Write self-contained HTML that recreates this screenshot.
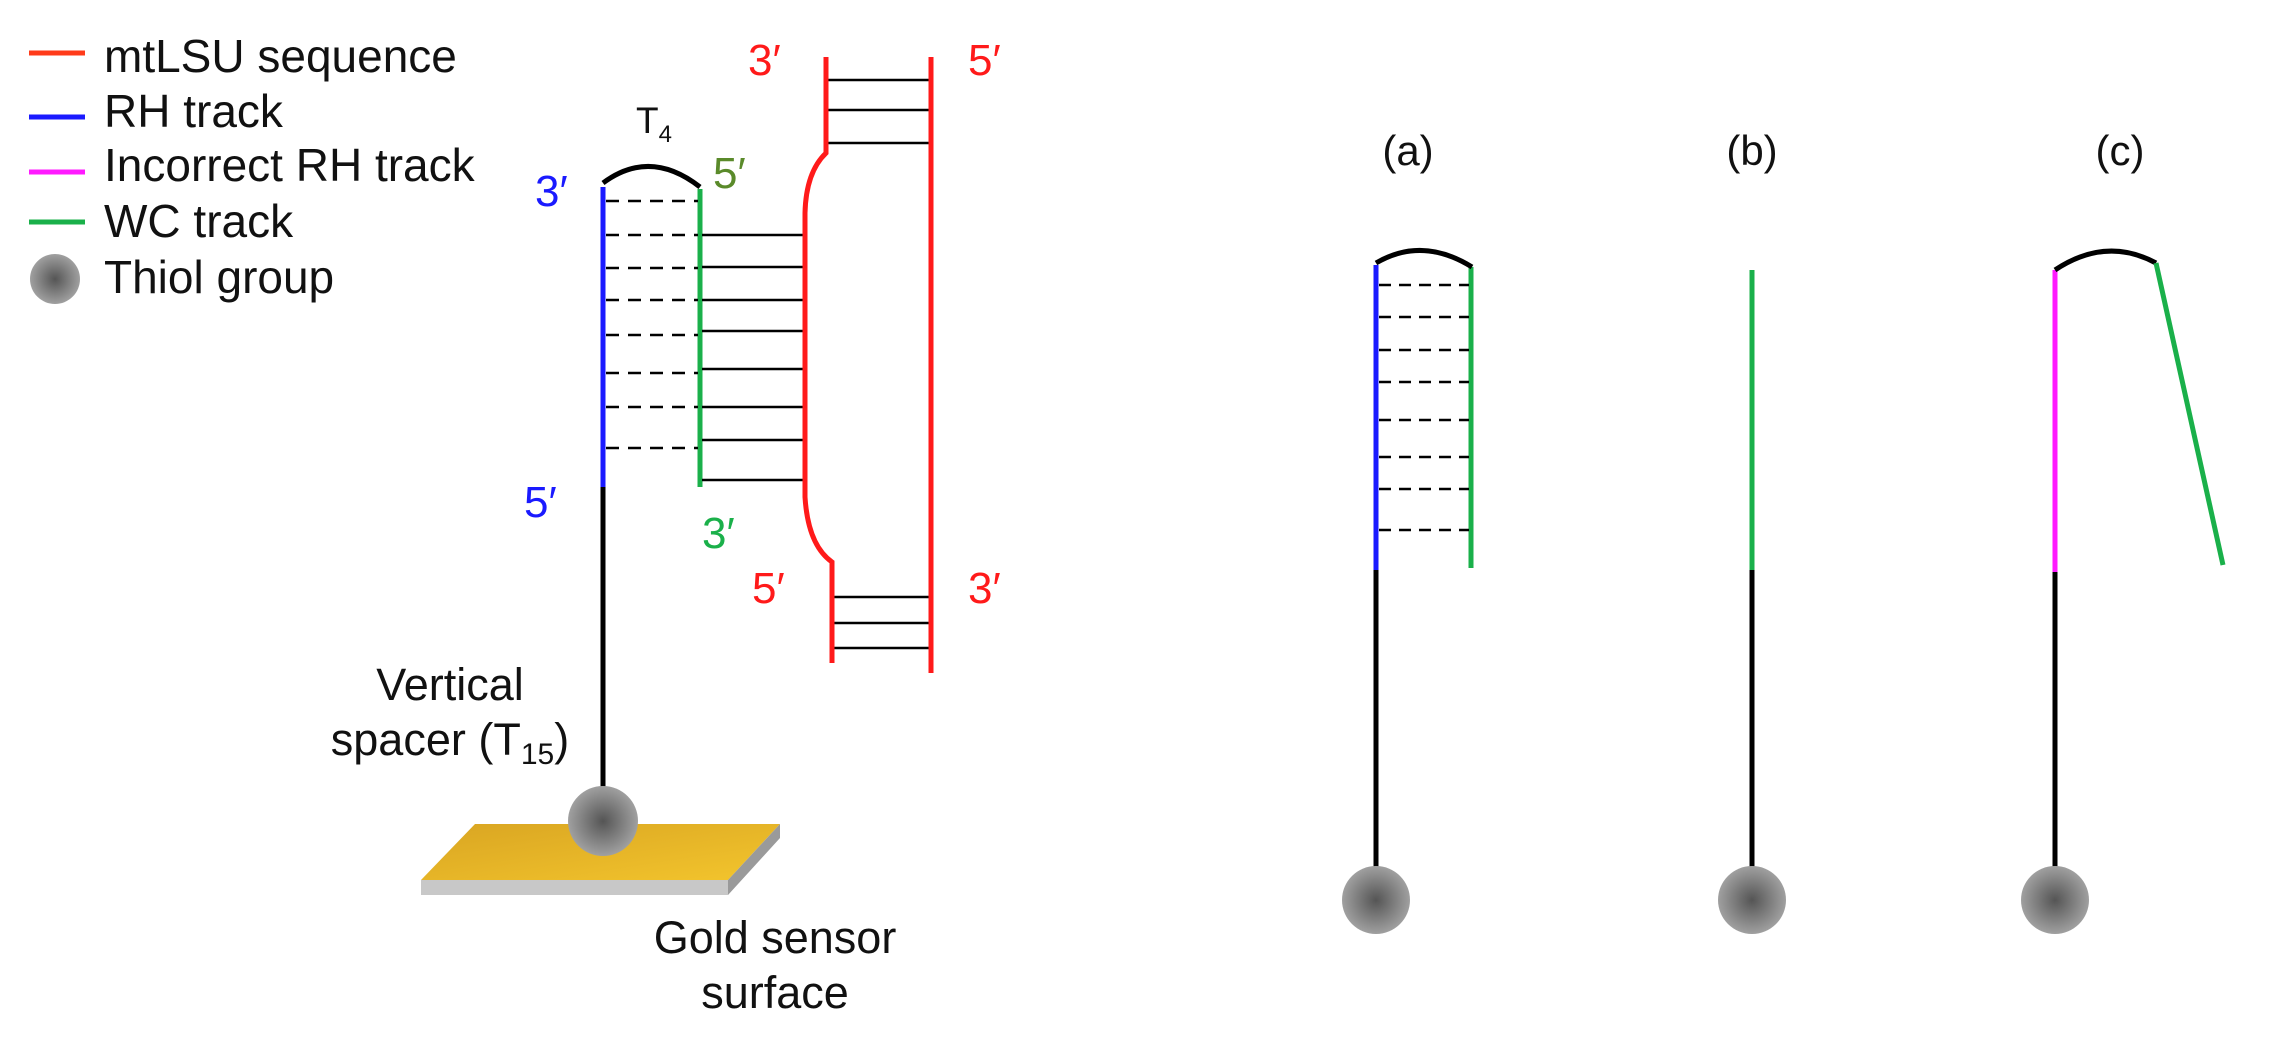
<!DOCTYPE html>
<html><head><meta charset="utf-8"><style>
html,body{margin:0;padding:0;background:#fff;}
svg{display:block;}
text{font-family:"Liberation Sans",sans-serif;}
</style></head><body>
<svg width="2272" height="1050" viewBox="0 0 2272 1050" xmlns="http://www.w3.org/2000/svg">
<defs>
<radialGradient id="ball" cx="50%" cy="50%" r="50%">
<stop offset="0" stop-color="#555"/><stop offset="1" stop-color="#a0a0a0"/>
</radialGradient>
<linearGradient id="gold" x1="0" y1="0" x2="1" y2="1">
<stop offset="0" stop-color="#d9a522"/><stop offset="1" stop-color="#f3c52d"/>
</linearGradient>
</defs>
<!-- legend -->
<g stroke-width="5">
<line x1="29" y1="53" x2="85" y2="53" stroke="#ff3b1a"/>
<line x1="29" y1="117" x2="85" y2="117" stroke="#1a1aff"/>
<line x1="29" y1="172" x2="85" y2="172" stroke="#ff1aff"/>
<line x1="29" y1="222" x2="85" y2="222" stroke="#1ab04a"/>
</g>
<circle cx="55" cy="279" r="25" fill="url(#ball)"/>
<g font-size="46" fill="#111">
<text x="104" y="72">mtLSU sequence</text>
<text x="104" y="127">RH track</text>
<text x="104" y="181">Incorrect RH track</text>
<text x="104" y="237">WC track</text>
<text x="104" y="293">Thiol group</text>
</g>
<!-- gold plate -->
<polygon points="421,880 728,880 780,824 475,824" fill="url(#gold)"/>
<polygon points="421,880 728,880 728,895 421,895" fill="#c8c8c8"/>
<polygon points="728,880 780,824 780,838 728,895" fill="#9a9a9a"/>
<!-- left stem -->
<line x1="603" y1="487" x2="603" y2="800" stroke="#000" stroke-width="5"/>
<line x1="603" y1="187" x2="603" y2="487" stroke="#1a1aff" stroke-width="5"/>
<line x1="700" y1="189" x2="700" y2="487" stroke="#1ab04a" stroke-width="5"/>
<path d="M603,183 Q650,148 700,187" fill="none" stroke="#000" stroke-width="5"/>
<g stroke="#000" stroke-width="2.5" stroke-dasharray="13,9">
<line x1="606" y1="201" x2="698" y2="201"/><line x1="606" y1="235" x2="698" y2="235"/>
<line x1="606" y1="268" x2="698" y2="268"/><line x1="606" y1="300" x2="698" y2="300"/>
<line x1="606" y1="335" x2="698" y2="335"/><line x1="606" y1="373" x2="698" y2="373"/>
<line x1="606" y1="407" x2="698" y2="407"/><line x1="606" y1="448" x2="698" y2="448"/>
</g>
<g stroke="#000" stroke-width="2.5">
<line x1="702" y1="235" x2="805" y2="235"/><line x1="702" y1="267" x2="805" y2="267"/>
<line x1="702" y1="300" x2="805" y2="300"/><line x1="702" y1="331" x2="805" y2="331"/>
<line x1="702" y1="369" x2="805" y2="369"/><line x1="702" y1="407" x2="805" y2="407"/>
<line x1="702" y1="440" x2="805" y2="440"/><line x1="702" y1="480" x2="805" y2="480"/>
<line x1="826" y1="80" x2="931" y2="80"/><line x1="826" y1="110" x2="931" y2="110"/>
<line x1="826" y1="143" x2="931" y2="143"/>
<line x1="832" y1="597" x2="931" y2="597"/><line x1="832" y1="623" x2="931" y2="623"/>
<line x1="832" y1="648" x2="931" y2="648"/>
</g>
<path d="M826,57 L826,153 Q806,172 805,213 L805,497 Q808,545 832,562 L832,663" fill="none" stroke="#ff1a1a" stroke-width="5"/>
<line x1="931" y1="57" x2="931" y2="673" stroke="#ff1a1a" stroke-width="5"/>
<circle cx="603" cy="821" r="35" fill="url(#ball)"/>
<g font-size="44">
<text x="748" y="75" fill="#ff1a1a">3′</text>
<text x="968" y="75" fill="#ff1a1a">5′</text>
<text x="752" y="603" fill="#ff1a1a">5′</text>
<text x="968" y="603" fill="#ff1a1a">3′</text>
<text x="535" y="206" fill="#1a1aff">3′</text>
<text x="524" y="517" fill="#1a1aff">5′</text>
<text x="713" y="188" fill="#5a8a2a">5′</text>
<text x="702" y="548" fill="#1ab04a">3′</text>
</g>
<text x="636" y="133" font-size="37" fill="#111">T<tspan font-size="24" dy="9">4</tspan></text>
<g font-size="45" fill="#111" text-anchor="middle">
<text x="450" y="700">Vertical</text>
<text x="450" y="755">spacer (T<tspan font-size="30" dy="9">15</tspan><tspan dy="-9">)</tspan></text>
<text x="775" y="953">Gold sensor</text>
<text x="775" y="1008">surface</text>
</g>
<!-- right panels -->
<g font-size="42" fill="#111" text-anchor="middle">
<text x="1408" y="165">(a)</text>
<text x="1752" y="165">(b)</text>
<text x="2120" y="165">(c)</text>
</g>
<g stroke-width="5" fill="none">
<line x1="1376" y1="570" x2="1376" y2="880" stroke="#000"/>
<line x1="1376" y1="265" x2="1376" y2="570" stroke="#1a1aff"/>
<line x1="1471" y1="267" x2="1471" y2="568" stroke="#1ab04a"/>
<path d="M1376,263 Q1422,236 1472,267" stroke="#000"/>
<line x1="1752" y1="570" x2="1752" y2="880" stroke="#000"/>
<line x1="1752" y1="270" x2="1752" y2="570" stroke="#1ab04a"/>
<line x1="2055" y1="572" x2="2055" y2="880" stroke="#000"/>
<line x1="2055" y1="270" x2="2055" y2="572" stroke="#ff1aff"/>
<path d="M2055,270 Q2106,236 2156,263" stroke="#000"/>
<line x1="2156" y1="263" x2="2223" y2="565" stroke="#1ab04a"/>
</g>
<g stroke="#000" stroke-width="2.5" stroke-dasharray="12,8">
<line x1="1379" y1="285" x2="1469" y2="285"/><line x1="1379" y1="317" x2="1469" y2="317"/>
<line x1="1379" y1="350" x2="1469" y2="350"/><line x1="1379" y1="382" x2="1469" y2="382"/>
<line x1="1379" y1="420" x2="1469" y2="420"/><line x1="1379" y1="457" x2="1469" y2="457"/>
<line x1="1379" y1="489" x2="1469" y2="489"/><line x1="1379" y1="530" x2="1469" y2="530"/>
</g>
<circle cx="1376" cy="900" r="34" fill="url(#ball)"/>
<circle cx="1752" cy="900" r="34" fill="url(#ball)"/>
<circle cx="2055" cy="900" r="34" fill="url(#ball)"/>
</svg>
</body></html>
